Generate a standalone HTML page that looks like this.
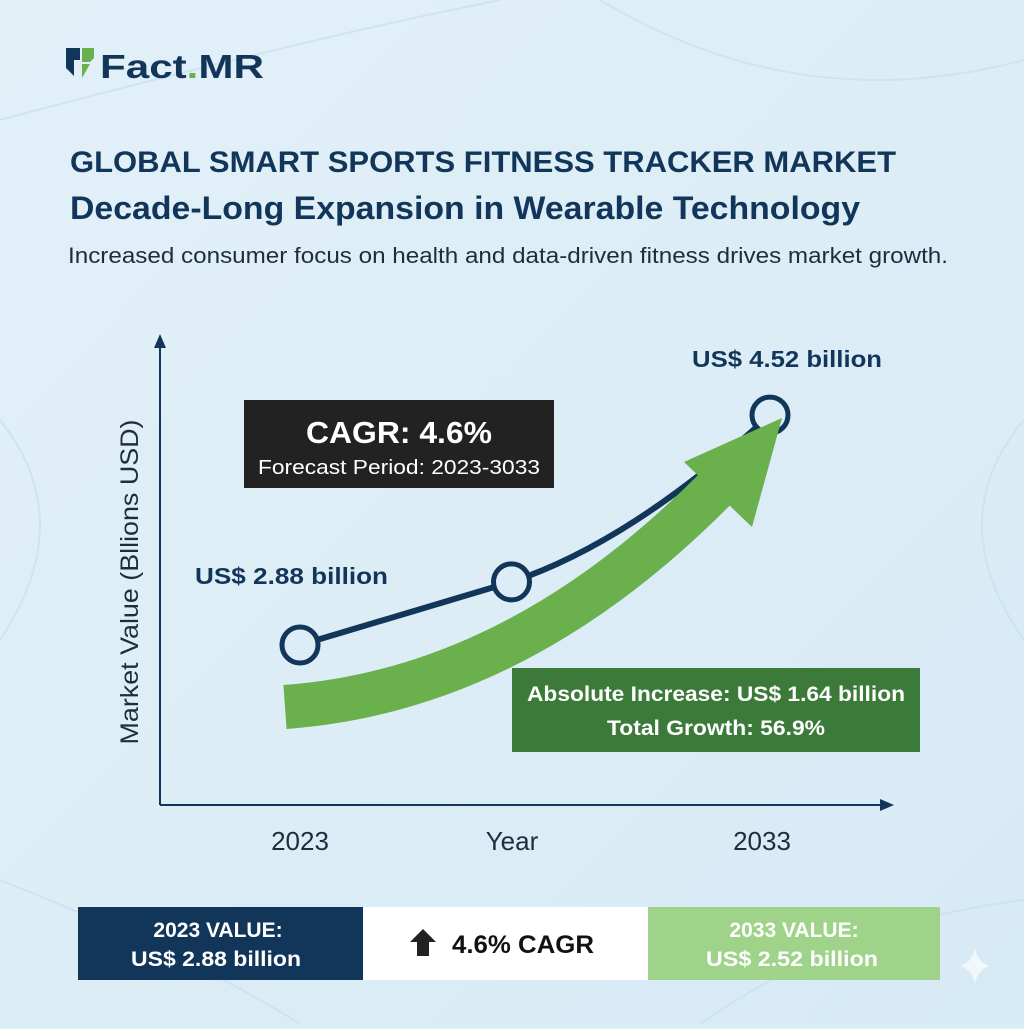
<!DOCTYPE html>
<html><head><meta charset="utf-8"><style>
body{margin:0;width:1024px;height:1024px;overflow:hidden;background:#dcedf7;font-family:"Liberation Sans",sans-serif}
</style></head><body>
<svg width="1024" height="1024" viewBox="0 0 1024 1024">
<defs><linearGradient id="bg" x1="0" y1="0" x2="1" y2="1"><stop offset="0" stop-color="#e2f0f8"/><stop offset="1" stop-color="#d6eaf5"/></linearGradient></defs>
<rect width="1024" height="1024" fill="url(#bg)"/>
<g stroke="#c9e1ef" stroke-width="2" fill="none" opacity="0.8">
<path d="M0,120 Q300,40 500,0"/><path d="M600,0 Q800,120 1024,60"/><path d="M0,420 Q80,520 0,640"/><path d="M1024,420 Q940,520 1024,640"/><path d="M0,880 Q200,960 300,1024"/><path d="M700,1024 Q850,920 1024,900"/>
</g>
<g>
<path d="M66,48 h14 v12 h-6 v16 l-8,-8z" fill="#12365a"/>
<path d="M82,48 h12 v10 l-4,4 h-8z" fill="#6ab04c"/>
<path d="M82,64 h8 l-8,14z" fill="#6ab04c"/>
<text x="100" y="78" font-size="33" font-weight="bold" fill="#12365a" textLength="164" lengthAdjust="spacingAndGlyphs">Fact<tspan fill="#6ab04c">.</tspan>MR</text>
</g>
<text x="70" y="172" font-size="30" font-weight="bold" fill="#12365a" textLength="826" lengthAdjust="spacingAndGlyphs">GLOBAL SMART SPORTS FITNESS TRACKER MARKET</text>
<text x="70" y="219" font-size="32" font-weight="bold" fill="#12365a" textLength="790" lengthAdjust="spacingAndGlyphs">Decade-Long Expansion in Wearable Technology</text>
<text x="68" y="263" font-size="22" fill="#1d2d3d" textLength="880" lengthAdjust="spacingAndGlyphs">Increased consumer focus on health and data-driven fitness drives market growth.</text>
<g stroke="#12365a" stroke-width="2" fill="#12365a">
<line x1="160" y1="340" x2="160" y2="805"/><path d="M154,348 L160,334 L166,348z" stroke="none"/>
<line x1="160" y1="805" x2="885" y2="805"/><path d="M880,799 L894,805 L880,811z" stroke="none"/>
</g>
<text transform="translate(138,582) rotate(-90)" text-anchor="middle" font-size="25" fill="#1d2d3d" textLength="325" lengthAdjust="spacingAndGlyphs">Market Value (Bllions USD)</text>
<text x="300" y="850" text-anchor="middle" font-size="26" fill="#1d2d3d">2023</text>
<text x="512" y="850" text-anchor="middle" font-size="26" fill="#1d2d3d">Year</text>
<text x="762" y="850" text-anchor="middle" font-size="26" fill="#1d2d3d">2033</text>
<g id="chart"></g>
<g>
<rect x="244" y="400" width="310" height="88" fill="#222"/>
<text x="399" y="443" text-anchor="middle" font-size="31" font-weight="bold" fill="#fff" textLength="186" lengthAdjust="spacingAndGlyphs">CAGR: 4.6%</text>
<text x="399" y="474" text-anchor="middle" font-size="20" fill="#fff" textLength="282" lengthAdjust="spacingAndGlyphs">Forecast Period: 2023-3033</text>
</g>
<text x="195" y="584" font-size="23" font-weight="bold" fill="#12365a" textLength="193" lengthAdjust="spacingAndGlyphs">US$ 2.88 billion</text>
<text x="692" y="367" font-size="23" font-weight="bold" fill="#12365a" textLength="190" lengthAdjust="spacingAndGlyphs">US$ 4.52 billion</text>
<g>
<rect x="512" y="668" width="408" height="84" fill="#3c7a3a"/>
<text x="716" y="701" text-anchor="middle" font-size="21" font-weight="bold" fill="#fff" textLength="378" lengthAdjust="spacingAndGlyphs">Absolute Increase: US$ 1.64 billion</text>
<text x="716" y="735" text-anchor="middle" font-size="21" font-weight="bold" fill="#fff" textLength="218" lengthAdjust="spacingAndGlyphs">Total Growth: 56.9%</text>
</g>
<g>
<rect x="78" y="907" width="285" height="73" fill="#12365a"/>
<text x="218" y="937" text-anchor="middle" font-size="21" font-weight="bold" fill="#fff">2023 VALUE:</text>
<text x="216" y="966" text-anchor="middle" font-size="21" font-weight="bold" fill="#fff" textLength="170" lengthAdjust="spacingAndGlyphs">US$ 2.88 billion</text>
<rect x="363" y="907" width="285" height="73" fill="#fff"/>
<path d="M410,942 l13,-13 l13,13 h-7 v14 h-12 v-14z" fill="#222"/>
<text x="452" y="953" font-size="25" font-weight="bold" fill="#111" textLength="142" lengthAdjust="spacingAndGlyphs">4.6% CAGR</text>
<rect x="648" y="907" width="292" height="73" fill="#9fd38a"/>
<text x="794" y="937" text-anchor="middle" font-size="21" font-weight="bold" fill="#fff">2033 VALUE:</text>
<text x="792" y="966" text-anchor="middle" font-size="21" font-weight="bold" fill="#fff" textLength="172" lengthAdjust="spacingAndGlyphs">US$ 2.52 billion</text>
</g>
<path d="M975,948 q3,15 15,18 q-12,3 -15,18 q-3,-15 -15,-18 q12,-3 15,-18z" fill="#f2f7fb"/>
</svg>
<script>
const years=[2023,2027.5,2033];
const values=[2.88,3.33,4.52];
const x=y=>300+(y-2023)*47;
const yv=v=>645-(v-2.88)*140.2;
const g=document.getElementById('chart');
const NS='http://www.w3.org/2000/svg';
const p0=[x(years[0]),yv(values[0])],p1=[x(years[1]),yv(values[1])],p2=[x(years[2]),yv(values[2])];
const line=document.createElementNS(NS,'path');
line.setAttribute('d',`M${p0} L${p1} Q${p1[0]+120},${p1[1]-40} ${p2}`);
line.setAttribute('stroke','#12365a');line.setAttribute('stroke-width','6');line.setAttribute('fill','none');


g.appendChild(line);
const band=document.createElementNS(NS,'path');
band.setAttribute('d','M285,707 Q520,690 722,482');
band.setAttribute('stroke','#6ab04c');band.setAttribute('stroke-width','44');band.setAttribute('fill','none');


g.appendChild(band);
const head=document.createElementNS(NS,'polygon');
head.setAttribute('points','684,462 782,418 752,527');head.setAttribute('fill','#6ab04c');


years.forEach((yr,i)=>{
 const c=document.createElementNS(NS,'circle');
 c.setAttribute('cx',x(yr));c.setAttribute('cy',yv(values[i]));c.setAttribute('r','18');
 c.setAttribute('fill','#dcedf7');c.setAttribute('stroke','#12365a');c.setAttribute('stroke-width','5');
 
 
 g.appendChild(c);
});
g.appendChild(head);
</script>
</body></html>
